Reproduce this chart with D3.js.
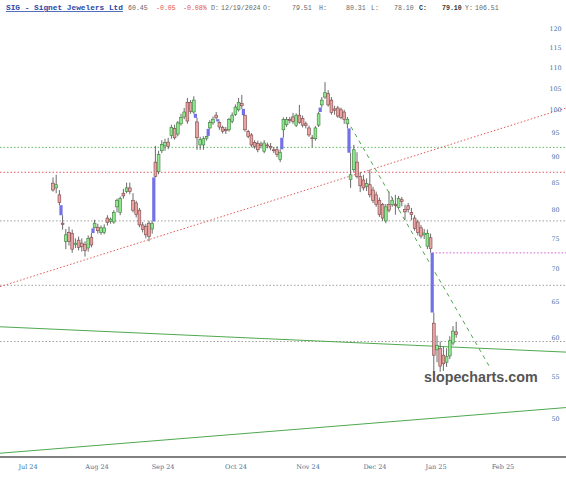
<!DOCTYPE html>
<html><head><meta charset="utf-8">
<script src="https://cdn.jsdelivr.net/npm/d3@7"></script>
<style>body{margin:0;background:#fff}svg{display:block}</style>
</head><body>
<svg id="c" width="566" height="480"></svg>
<script>
// ---- data ----
const opens  = [84.9,84.0,82.7,77.6,74.5,76.0,75.8,74.0,74.7,74.2,74.0,73.4,75.2,76.8,76.9,76.0,76.0,78.5,77.9,77.8,80.5,79.5,83.0,83.3,84.0,81.7,81.2,79.9,77.3,77.0,77.6,76.6,89.0,87.1,91.3,92.3,93.1,94.5,96.0,94.8,97.0,98.5,101.8,101.8,99.6,97.4,92.5,92.5,93.9,96.1,97.2,98.9,97.3,96.2,95.8,95.7,97.5,99.0,100.1,101.5,98.9,95.3,94.6,93.0,92.8,92.7,91.2,92.5,92.2,91.5,91.5,89.5,95.7,96.8,97.9,98.5,96.7,98.9,98.2,97.0,96.1,94.0,93.8,96.7,101.2,103.0,103.8,102.3,100.3,100.5,100.1,99.6,97.0,85.6,87.5,89.0,86.2,85.5,84.2,84.6,83.6,82.7,81.7,80.9,78.0,80.9,80.9,80.9,80.4,81.8,80.0,80.7,79.51,78.5,77.8,76.8,75.6,73.7,75.1,62.0,58.4,58.6,57.7,56.8,57.6,59.3,60.8];
const highs  = [86.0,86.5,83.6,79.0,76.6,77.0,76.5,75.0,75.3,75.0,74.5,75.5,75.9,78.2,77.5,77.2,77.4,79.0,78.6,79.9,82.0,82.4,83.8,85.0,85.0,83.0,81.6,80.3,77.8,77.5,78.0,77.9,92.3,91.3,93.5,93.8,94.0,96.8,96.8,97.6,99.2,100.5,102.8,102.3,103.2,98.3,94.2,94.3,94.4,97.8,98.6,99.6,97.5,96.6,96.3,98.3,99.5,101.3,102.8,103.5,98.9,95.7,95.0,93.5,93.4,93.2,93.5,93.0,92.9,92.0,92.2,91.6,98.4,98.5,98.5,99.4,99.3,101.2,98.8,97.5,96.6,94.6,96.5,99.6,103.0,106.5,104.6,103.0,101.0,101.0,100.6,100.1,98.5,90.9,92.5,91.0,87.0,86.5,85.8,87.5,84.2,83.3,82.2,81.2,81.0,83.3,82.2,82.7,82.5,82.3,80.9,81.2,80.31,79.0,78.2,77.3,76.6,76.5,75.8,63.5,60.3,59.5,58.8,58.6,60.2,61.6,62.2];
const lows   = [83.3,83.0,80.8,76.5,73.2,73.8,72.6,73.4,73.0,72.8,72.0,72.8,73.5,76.7,75.8,75.6,75.7,77.2,77.5,77.5,79.5,79.0,82.0,83.0,82.8,79.5,78.6,76.9,76.0,75.0,74.5,75.8,86.0,86.6,90.8,91.3,91.6,93.8,93.6,94.3,96.6,98.0,97.0,99.2,99.2,91.5,91.5,91.5,93.4,95.9,96.8,98.0,95.7,94.9,94.8,95.3,97.1,98.7,99.7,100.3,95.3,93.9,92.0,91.7,91.0,91.8,90.8,91.8,91.4,90.8,90.0,89.0,94.0,96.3,97.1,97.0,96.3,97.0,96.2,96.0,94.2,92.0,93.4,96.3,100.6,102.6,100.8,99.0,99.0,98.3,98.0,97.0,96.0,84.0,87.0,85.8,83.2,83.5,83.4,82.2,81.2,80.5,78.7,78.0,77.6,79.5,80.5,79.1,80.0,80.6,78.2,79.5,78.10,76.3,75.5,75.0,74.9,73.2,72.6,55.2,56.8,55.6,55.7,56.2,57.2,59.0,60.0];
const closes = [83.6,84.6,81.3,77.4,75.6,74.5,73.2,74.2,73.5,73.6,73.0,75.0,73.9,77.6,76.3,76.8,76.8,77.7,78.3,79.5,81.7,82.0,82.5,84.0,83.3,79.9,79.1,77.3,76.5,75.6,75.3,77.6,86.2,90.5,92.6,93.0,92.2,96.2,94.0,97.2,98.4,99.6,97.6,99.7,102.3,94.0,93.6,93.8,94.3,97.3,98.0,98.3,96.3,95.4,95.5,97.9,98.9,100.7,101.8,101.0,95.7,94.3,92.5,92.2,91.5,92.4,92.9,92.3,91.9,91.4,90.5,91.0,97.9,97.9,97.7,97.5,98.9,97.3,96.7,96.6,94.6,93.8,96.1,99.2,102.3,104.0,101.2,99.5,100.0,98.7,98.4,97.9,98.0,86.5,91.5,86.2,84.4,84.0,84.8,82.7,81.7,80.9,79.1,78.5,80.5,79.9,81.7,80.7,82.0,81.5,79.6,80.0,79.10,76.7,76.0,75.4,75.9,75.8,73.3,57.7,59.0,56.3,56.6,57.5,59.6,60.9,60.45];

const yTickValues = [50,55,60,65,70,75,80,85,90,95,100,105,110,115,120];
const monthLabels = ["Jul 24","Aug 24","Sep 24","Oct 24","Nov 24","Dec 24","Jan 25","Feb 25"];
const monthPos    = [-7.8,13.75,34.4,57.2,79.7,100.6,119.7,140.6];   // bar index of month start

const hLevels  = [92, 87, 78, 67.5, 59.5];                 // horizontal dotted levels
const hColors  = ["#63b963","#e05a5a","#a0a0a0","#a0a0a0","#a0a0a0"];
const gapLevel = 72.6;                                   // magenta level from the gap
// trendlines: [index1, price1, index2, price2]
const redTrend    = [-16.56, 67.3, 160.3, 100.5];
const greenUpper  = [-16.56, 61.5, 160.3, 58.1];
const greenLower  = [-16.56, 46.3, 160.3, 51.3];
const greenDashed = [90.6, 99.4, 136.6, 56.1];

const header = {sym:"SIG - Signet Jewelers Ltd", last:"60.45", chg:"-0.05", pct:"-0.08%",
  date:"12/19/2024", o:"79.51", h:"80.31", l:"78.10", c:"79.10", y:"106.51"};

// ---- drawing ----
const W = 566, H = 480;
const svg = d3.select("#c");
svg.append("rect").attr("width",W).attr("height",H).attr("fill","#fff");

const N = closes.length;
const x = d3.scaleLinear().domain([0, N-1]).range([53, 53 + (N-1)*3.2]);
const y = d3.scaleLog().domain([50,120]).range([419,29]);

svg.append("clipPath").attr("id","plot").append("rect").attr("x",0).attr("y",20).attr("width",W).attr("height",436);
const g = svg.append("g").attr("clip-path","url(#plot)");

// horizontal levels
g.selectAll("line.lvl").data(hLevels).enter().append("line")
  .attr("x1",0).attr("x2",W).attr("y1",d=>y(d)).attr("y2",d=>y(d))
  .attr("stroke",(d,i)=>hColors[i]).attr("stroke-width",1).attr("stroke-dasharray","1.5,2");

// magenta gap level from the gap bar to the right edge
g.append("line").attr("x1",x(118.5)).attr("x2",W).attr("y1",y(gapLevel)).attr("y2",y(gapLevel))
  .attr("stroke","#d65ad6").attr("stroke-width",1).attr("stroke-dasharray","1.5,2");

function trend(t, color, dash){
  g.append("line").attr("x1",x(t[0])).attr("y1",y(t[1])).attr("x2",x(t[2])).attr("y2",y(t[3]))
   .attr("stroke",color).attr("stroke-width",1).attr("stroke-dasharray",dash);
}
trend(redTrend,"#e25a5a","1.5,2");
trend(greenUpper,"#4fa84f",null);
trend(greenLower,"#4fa84f",null);
trend(greenDashed,"#4fa84f","4,4");

// candles
const bars = d3.range(N).map(i=>({i,o:opens[i],h:highs[i],l:lows[i],c:closes[i]}));

// gap bars (blue) between consecutive candles
const gaps = [];
for (let i=1;i<N;i++){
  if (lows[i] > highs[i-1]) gaps.push({i, a:highs[i-1], b:lows[i]});
  else if (highs[i] < lows[i-1]) gaps.push({i, a:highs[i], b:lows[i-1]});
}
g.selectAll("rect.gap").data(gaps).enter().append("rect")
  .attr("x",d=>x(d.i-0.5)-1.6).attr("width",3.2)
  .attr("y",d=>y(d.b)).attr("height",d=>y(d.a)-y(d.b))
  .attr("fill","#7272e6");

g.selectAll("line.wick").data(bars).enter().append("line")
  .attr("x1",d=>x(d.i)).attr("x2",d=>x(d.i))
  .attr("y1",d=>y(d.h)).attr("y2",d=>y(d.l))
  .attr("stroke","#444").attr("stroke-width",0.8);

g.selectAll("rect.body").data(bars).enter().append("rect")
  .attr("x",d=>x(d.i)-1.4).attr("width",2.8)
  .attr("y",d=>y(Math.max(d.o,d.c)))
  .attr("height",d=>Math.max(1,Math.abs(y(d.o)-y(d.c))))
  .attr("fill",d=>d.c>=d.o?"#8fe88f":"#eaa3a3")
  .attr("stroke",d=>d.c>=d.o?"#3b7a3b":"#7a4545").attr("stroke-width",0.6);

// bottom axis line
svg.append("line").attr("x1",0).attr("x2",W).attr("y1",457).attr("y2",457)
  .attr("stroke","#808080").attr("stroke-width",2);

// month labels
svg.selectAll("text.mon").data(monthLabels).enter().append("text")
  .attr("x",(d,i)=>x(monthPos[i])).attr("y",469)
  .attr("text-anchor","middle").attr("font-family","DejaVu Serif, serif")
  .attr("font-size",6.5).attr("fill","#3f6f95").text(d=>d);

// y tick labels
svg.selectAll("text.yt").data(yTickValues).enter().append("text")
  .attr("x",555.5).attr("y",d=>y(d)).attr("dy","0.35em")
  .attr("text-anchor","middle").attr("font-family","DejaVu Serif, serif")
  .attr("font-size",6.3).attr("fill","#3a72a8").text(d=>d);

// watermark
svg.append("text").attr("x",424).attr("y",382)
  .attr("font-family","Liberation Sans, Arial, sans-serif").attr("font-weight","bold")
  .attr("font-size",14.3).attr("fill","#555").text("slopecharts.com");

// header
const hf = "Liberation Mono, Courier New, monospace";
const hy = 10;
function ht(xp, t, fill, fs, bold, underline){
  const e = svg.append("text").attr("x",xp).attr("y",hy).attr("font-family",hf)
    .attr("font-size",fs).attr("fill",fill).text(t);
  if (bold) e.attr("font-weight","bold");
  if (underline) e.attr("text-decoration","underline");
  return e;
}
const fsT = 7.8, fsR = 6.6;
ht(6, header.sym, "#2746a8", fsT, true, true);
ht(128, header.last, "#666", fsR);
ht(156, header.chg, "#e05050", fsR);
ht(183, header.pct, "#e05050", fsR);
ht(211, "D:", "#666", fsR);
ht(221, header.date, "#666", fsR);
ht(263, "O:", "#666", fsR);
ht(292, header.o, "#666", fsR);
ht(319, "H:", "#666", fsR);
ht(346, header.h, "#666", fsR);
ht(371, "L:", "#666", fsR);
ht(394, header.l, "#666", fsR);
ht(419, "C:", "#333", fsR, true);
ht(442, header.c, "#333", fsR, true);
ht(465, "Y:", "#666", fsR);
ht(475, header.y, "#666", fsR);
</script>
</body></html>
